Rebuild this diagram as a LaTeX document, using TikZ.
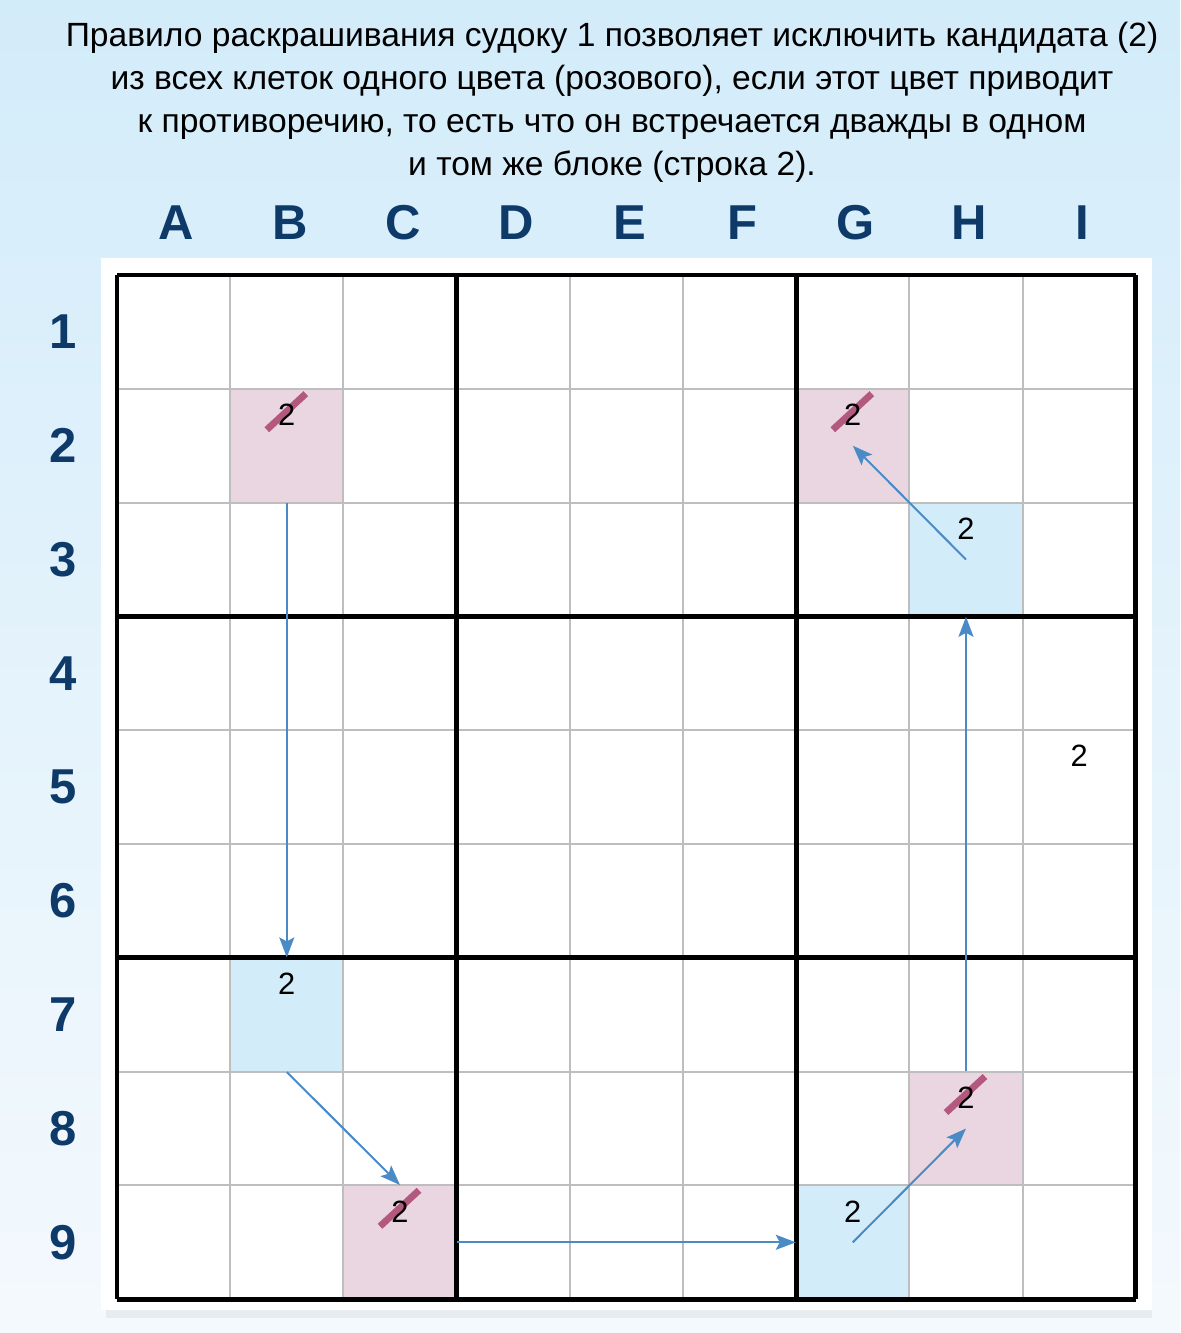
\documentclass[tikz,border=0pt]{standalone}
\usepackage{fontspec}
\setmainfont{Liberation Sans}
\usetikzlibrary{arrows.meta}

\definecolor{bgtop}{HTML}{D3ECFA}
\definecolor{bgbot}{HTML}{F4F9FD}
\definecolor{labblue}{HTML}{0E3A6A}
\definecolor{pinkcell}{HTML}{E9D6E0}
\definecolor{bluecell}{HTML}{D2EDF9}
\definecolor{strikecol}{HTML}{B3587E}
\definecolor{arrowblue}{HTML}{4A8BC6}
\definecolor{thingray}{HTML}{BEBEBE}

\tikzset{
    cell/.style = {minimum width=56.6pt, minimum height=56.9pt, inner sep=0pt},
    pinkbox/.style = {cell, fill=pinkcell},
    bluebox/.style = {cell, fill=bluecell},
    cand/.style = {font=\fontsize{15.4pt}{18pt}\selectfont, inner sep=0pt},
    strikeline/.style = {draw=strikecol, line width=3.4pt},
    thinline/.style = {draw=thingray, line width=1pt},
    thickline/.style = {draw=black, line width=2.4pt},
    link/.style = {draw=arrowblue, line width=1pt,
        -{Stealth[length=10pt, width=7.5pt, inset=2pt]}},
    headlab/.style = {font=\fontsize{24.5pt}{28pt}\selectfont\bfseries, text=labblue, inner sep=0pt},
    title/.style = {font=\fontsize{16.8pt}{21.5pt}\selectfont, align=center, inner sep=0pt}
}

\begin{document}
\begin{tikzpicture}[x=0.5pt, y=-0.5pt]
    \useasboundingbox (0,0) rectangle (1180,1333);
    \shade[top color=bgtop, bottom color=bgbot] (0,0) rectangle (1180,1333);
    \fill[black, opacity=0.05] (106,268) rectangle (1152,1318); % shadow
    \fill[white] (101,258) rectangle (1152,1310);

    \node[title] (title) at (612,102) {Правило раскрашивания судоку 1 позволяет исключить кандидата (2)\\
        из всех клеток одного цвета (розового), если этот цвет приводит\\
        к противоречию, то есть что он встречается дважды в одном\\
        и том же блоке (строка 2).};

    % cells with candidate 2
    \foreach \n/\c/\r/\s in {B2/2/2/pinkbox, G2/7/2/pinkbox, H3/8/3/bluebox, I5/9/5/cell,
            B7/2/7/bluebox, H8/8/8/pinkbox, C9/3/9/pinkbox, G9/7/9/bluebox}
        \node[\s] (\n) at ({117+(\c-0.5)*113.2},{275+(\r-0.5)*113.8}) {};

    % grid
    \foreach \i in {1,2,4,5,7,8} {
        \draw[thinline] ({117+\i*113.2},275) -- ({117+\i*113.2},1299);
        \draw[thinline] (117,{275+\i*113.8}) -- (1136,{275+\i*113.8});
    }
    \foreach \i in {0,3,6,9} {
        \draw[thickline] ({117+\i*113.2},275) -- ({117+\i*113.2},1299);
        \draw[thickline] (117,{275+\i*113.8}) -- (1136,{275+\i*113.8});
    }

    % crossed out
    \foreach \n in {B2,G2,H8,C9}
        \draw[strikeline] ([xshift=-10pt, yshift=8pt]\n.center) -- ([xshift=9.5pt, yshift=26pt]\n.center);
    \foreach \n in {B2,G2,H3,I5,B7,H8,C9,G9}
        \node[cand] (\n-2) at ([yshift=15.5pt]\n.center) {2};

    % chain
    \draw[link] (B2.south) -- (B7.north);
    \draw[link] (B7.south) -- (C9.north);
    \draw[link] (C9.east) -- (G9.west);
    \draw[link] (G9.center) -- (H8.center);
    \draw[link] (H8.north) -- (H3.south);
    \draw[link] (H3.center) -- (G2.center);

    % labels
    \foreach \l [count=\c] in {A,B,C,D,E,F,G,H,I}
        \node[headlab] (col-\l) at ({120+(\c-0.5)*113.2},223) {\l};
    \foreach \r in {1,...,9}
        \node[headlab] (row-\r) at (63,{275+(\r-0.5)*113.8}) {\r};
\end{tikzpicture}
\end{document}
